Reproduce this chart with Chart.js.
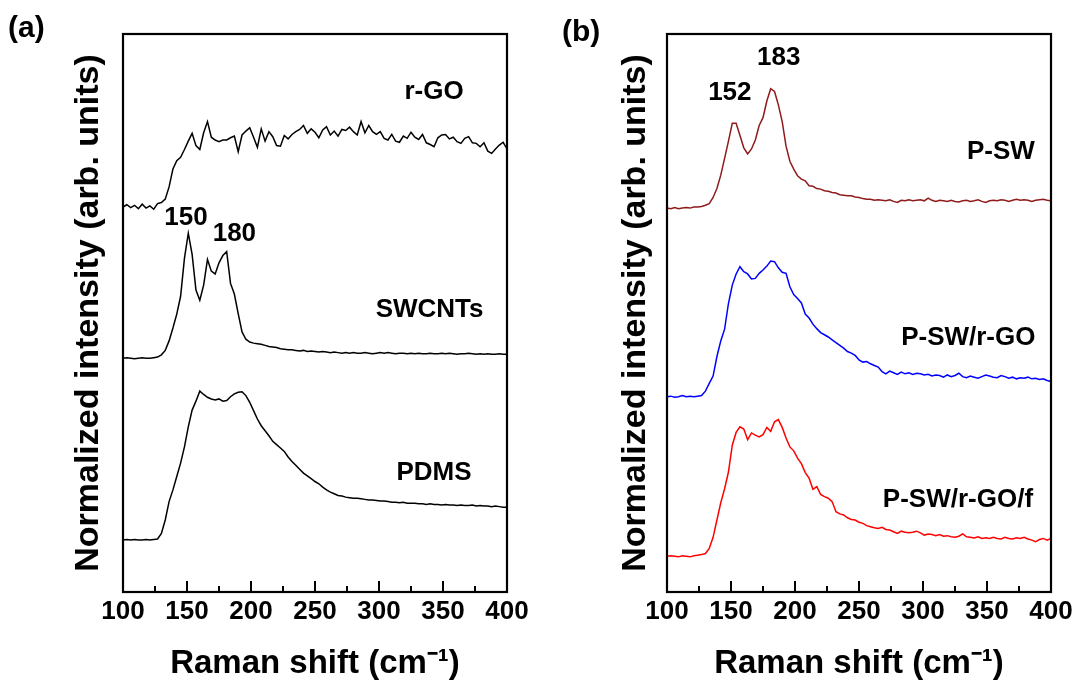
<!DOCTYPE html>
<html><head><meta charset="utf-8">
<script src="https://cdn.jsdelivr.net/npm/chart.js@4.4.1/dist/chart.umd.min.js"></script>
<style>
html,body{margin:0;padding:0;background:#fff;}
#wrap{position:relative;width:1080px;height:685px;background:#fff;}
.panel{position:absolute;top:0;width:540px;height:685px;}
</style></head><body>
<div id="wrap">
<div class="panel" style="left:0"><canvas id="chartA" width="540" height="685"></canvas></div>
<div class="panel" style="left:540px"><canvas id="chartB" width="540" height="685"></canvas></div>
</div>
<script>
// ---------- data ----------
const shift = [
100,103,106,109,112,115,118,121,124,127,
130,133,136,139,142,145,148,151,154,157,
160,163,166,169,172,175,178,181,184,187,
190,193,196,199,202,205,208,211,214,217,
220,223,226,229,232,235,238,241,244,247,
250,253,256,259,262,265,268,271,274,277,
280,283,286,289,292,295,298,301,304,307,
310,313,316,319,322,325,328,331,334,337,
340,343,346,349,352,355,358,361,364,367,
370,373,376,379,382,385,388,391,394,397,
400];

const rGO = [
69.0,69.4,68.9,69.3,68.7,69.5,68.8,69.2,68.6,69.6,
69.8,70.4,72.6,75.8,77.3,77.9,79.3,80.8,82.2,80.0,
79.3,82.3,84.3,81.5,81.0,80.7,81.0,81.0,81.4,81.7,
78.9,81.9,82.6,83.2,81.5,79.7,83.0,80.8,82.5,81.6,
80.0,79.9,81.8,81.2,82.0,82.5,82.9,83.6,82.2,83.0,
82.4,81.4,82.8,83.4,81.9,82.6,81.7,82.9,82.7,83.3,
82.5,81.9,84.3,82.3,83.6,82.5,82.0,82.5,81.3,81.0,
82.0,80.8,80.6,81.7,81.3,82.4,81.5,81.1,82.0,80.5,
80.2,79.8,81.4,81.9,82.0,81.2,81.5,80.7,80.4,81.3,
81.6,80.5,80.4,79.8,80.5,79.0,78.6,79.4,80.1,80.6,
79.4];

const swcnt = [
41.9,42.0,41.9,41.8,41.9,42.0,41.9,41.9,42.0,42.1,
42.5,43.3,45.0,47.3,49.8,53.0,59.8,64.3,60.5,54.1,
52.3,55.0,59.6,57.5,57.0,59.0,60.3,61.0,55.3,53.4,
49.9,46.6,45.3,44.8,44.6,44.5,44.4,44.2,44.0,43.9,
43.8,43.6,43.5,43.4,43.4,43.3,43.2,43.3,43.1,43.2,
43.1,43.0,43.1,43.0,42.9,43.0,42.9,42.8,42.9,42.8,
42.9,42.8,42.8,42.9,42.8,42.7,42.8,42.9,42.8,42.9,
42.8,42.7,42.8,42.8,42.7,42.8,42.7,42.8,42.7,42.7,
42.8,42.7,42.7,42.8,42.7,42.8,42.7,42.6,42.7,42.7,
42.8,42.7,42.6,42.7,42.6,42.7,42.6,42.6,42.7,42.6,
42.6];

const pdms = [
9.3,9.4,9.3,9.4,9.3,9.3,9.4,9.3,9.4,9.5,
10.5,12.9,16.2,18.3,20.7,23.1,26.0,29.6,32.6,34.2,
36.0,35.4,34.9,34.6,34.4,34.6,34.2,34.3,35.0,35.5,
35.8,35.9,35.2,34.0,32.5,31.0,29.8,28.9,28.0,27.0,
26.4,25.8,25.2,24.2,23.4,22.7,22.0,21.3,20.8,20.3,
19.8,19.4,18.8,18.3,17.9,17.6,17.3,17.2,17.0,16.9,
16.8,16.8,16.7,16.6,16.5,16.5,16.4,16.3,16.3,16.2,
16.1,16.1,16.0,16.1,15.9,15.9,15.9,15.8,15.8,15.7,
15.8,15.7,15.7,15.6,15.7,15.6,15.6,15.5,15.6,15.5,
15.5,15.6,15.4,15.5,15.4,15.4,15.3,15.4,15.3,15.2,
15.2];

const pSW = [
68.8,68.7,68.9,68.7,68.8,68.9,68.8,69.0,69.0,69.1,
69.3,69.6,70.7,72.3,74.7,77.7,80.8,84.0,84.0,81.8,
79.6,78.5,79.4,81.0,83.6,85.0,88.0,90.2,89.7,87.3,
84.3,79.9,77.2,75.8,74.6,74.0,73.7,72.8,72.7,72.3,
72.2,71.9,71.8,71.6,71.5,71.2,71.1,71.0,71.0,70.8,
70.7,70.5,70.4,70.4,70.2,70.3,70.2,70.1,70.3,70.0,
69.8,70.2,70.1,70.3,70.1,70.2,70.3,70.1,70.6,70.2,
70.0,70.2,70.1,70.0,70.2,70.0,69.9,70.1,70.2,70.0,
70.1,70.3,70.0,69.8,70.1,70.2,70.1,70.3,70.2,70.0,
70.2,70.4,70.2,70.3,70.2,70.0,70.2,70.3,70.4,70.2,
70.1];

const pSWrGO = [
35.0,35.1,34.9,35.0,35.2,35.0,35.1,35.0,35.1,35.2,
36.0,37.4,38.7,42.2,45.0,47.1,51.7,55.0,57.0,58.3,
57.4,57.0,56.1,56.2,57.1,57.7,58.4,59.3,59.2,58.1,
57.3,57.1,54.7,53.3,52.6,51.8,49.8,49.1,48.0,47.2,
46.5,46.1,45.7,45.2,44.7,44.2,43.7,43.1,42.8,42.4,
41.6,41.2,41.3,40.9,40.6,40.3,39.5,39.1,39.6,39.3,
39.0,39.4,39.1,39.3,39.0,39.2,39.1,38.9,39.0,38.7,
38.9,38.8,38.5,38.9,38.6,38.8,39.2,38.6,38.4,38.7,
38.5,38.3,38.6,38.9,38.7,38.5,38.4,38.8,38.6,38.3,
38.5,38.2,38.4,38.3,38.5,38.2,38.3,38.1,38.2,37.9,
37.7];

const pSWrGOf = [
6.4,6.5,6.4,6.3,6.5,6.4,6.3,6.5,6.6,6.7,
6.9,7.8,9.8,12.9,16.0,18.5,21.5,26.3,28.6,29.6,
29.2,27.3,28.5,28.1,27.8,28.2,29.5,28.8,30.5,30.9,
29.5,27.6,26.0,25.3,24.0,23.0,21.4,20.4,18.4,18.9,
17.5,17.1,16.8,16.2,14.4,14.0,13.8,13.3,13.0,12.9,
12.5,12.3,11.9,11.7,11.5,11.4,11.6,11.2,11.1,10.8,
10.5,10.9,10.7,10.6,10.7,10.9,10.6,10.2,10.4,10.3,
10.1,10.3,10.0,10.1,9.9,9.8,10.0,10.4,9.9,9.8,
9.7,9.9,9.6,9.7,9.6,9.8,9.6,9.5,9.8,9.6,
9.5,9.7,9.6,9.8,9.5,9.3,9.0,9.4,9.6,9.3,
9.6];

const majorTicks = [100,150,200,250,300,350,400];
const minorTicks = [125,175,225,275,325,375];

// text annotations (data coordinates)
const notesA = [
  {text:'r-GO',   x:343, y:89.7},
  {text:'150',    x:149.2, y:67.1},
  {text:'180',    x:187.0, y:64.2},
  {text:'SWCNTs', x:339.5, y:50.5},
  {text:'PDMS',   x:343, y:21.3}
];
const notesB = [
  {text:'183',         x:187.3, y:95.8},
  {text:'152',         x:149.1, y:89.4},
  {text:'P-SW',        x:360.9, y:78.9},
  {text:'P-SW/r-GO',   x:335.4, y:45.5},
  {text:'P-SW/r-GO/f', x:327.3, y:16.5}
];

// ---------- drawing ----------
const FONT = "'Liberation Sans', Arial, Helvetica, sans-serif";

const framePlugin = {
  id: 'frameTicks',
  afterDraw(chart, args, opts) {
    const {ctx, chartArea, scales} = chart;
    const {left, right, top, bottom} = chartArea;
    const x = scales.x, y = scales.y;
    ctx.save();
    ctx.strokeStyle = '#000';
    ctx.lineWidth = 2;
    ctx.lineCap = 'butt';
    ctx.beginPath();
    majorTicks.forEach(v => { const px = Math.round(x.getPixelForValue(v)); ctx.moveTo(px, bottom); ctx.lineTo(px, bottom - 11); });
    minorTicks.forEach(v => { const px = Math.round(x.getPixelForValue(v)); ctx.moveTo(px, bottom); ctx.lineTo(px, bottom - 6); });
    ctx.stroke();
    ctx.lineWidth = 2.2;
    ctx.strokeRect(left, top, right - left, bottom - top);
    // annotations
    ctx.fillStyle = '#000';
    ctx.textAlign = 'center';
    ctx.textBaseline = 'middle';
    ctx.font = 'bold 26px ' + FONT;
    (opts.notes || []).forEach(n => {
      ctx.fillText(n.text, x.getPixelForValue(n.x), y.getPixelForValue(n.y));
    });
    // panel tag
    ctx.font = 'bold 30px ' + FONT;
    ctx.textAlign = 'left';
    ctx.fillText(opts.tag, opts.tagX, opts.tagY);
    ctx.restore();
  }
};

function buildPanel(id, series, notes, tag, geom) {
  const datasets = series.map(s => ({
    label: s.name,
    data: s.values.map((v, i) => ({x: shift[i], y: v})),
    borderColor: s.color,
    borderWidth: 1.5,
    pointRadius: 0,
    pointHoverRadius: 0,
    fill: false,
    tension: 0
  }));
  return new Chart(document.getElementById(id), {
    type: 'line',
    data: {datasets},
    plugins: [framePlugin],
    options: {
      responsive: false,
      animation: false,
      devicePixelRatio: 1,
      layout: {padding: {left: 0, right: geom.padRight, top: 34, bottom: 0}},
      plugins: {
        legend: {display: false},
        tooltip: {enabled: false},
        frameTicks: {notes, tag, tagX: geom.tagX, tagY: geom.tagY}
      },
      scales: {
        x: {
          type: 'linear', min: 100, max: 400,
          grid: {display: false, drawTicks: false},
          border: {display: false},
          ticks: {stepSize: 50, autoSkip: false, maxRotation: 0, padding: 4, color: '#000',
                  font: {family: FONT, size: 26, weight: 'bold'}},
          title: {display: true, text: 'Raman shift (cm\u207B\u00B9)', color: '#000',
                  font: {family: FONT, size: 33, weight: 'bold'}, padding: {top: 0, bottom: 1}},
          afterFit: s => { s.height = 93; }
        },
        y: {
          type: 'linear', min: 0, max: 100,
          grid: {display: false, drawTicks: false},
          border: {display: false},
          ticks: {display: false},
          title: {display: true, text: 'Normalized intensity (arb. units)', color: '#000',
                  font: {family: FONT, size: 34, weight: 'bold'}, padding: {top: geom.titlePad, bottom: 0}},
          afterFit: s => { s.width = geom.yWidth; }
        }
      }
    }
  });
}

buildPanel('chartA', [
  {name: 'r-GO', values: rGO, color: '#000000'},
  {name: 'SWCNTs', values: swcnt, color: '#000000'},
  {name: 'PDMS', values: pdms, color: '#000000'}
], notesA, '(a)', {padRight: 33, yWidth: 123, titlePad: 68.3, tagX: 8, tagY: 29});

buildPanel('chartB', [
  {name: 'P-SW', values: pSW, color: '#8f1b1b'},
  {name: 'P-SW/r-GO', values: pSWrGO, color: '#0000ff'},
  {name: 'P-SW/r-GO/f', values: pSWrGOf, color: '#ff0000'}
], notesB, '(b)', {padRight: 29, yWidth: 127, titlePad: 75.1, tagX: 22, tagY: 33});
</script>
</body></html>
